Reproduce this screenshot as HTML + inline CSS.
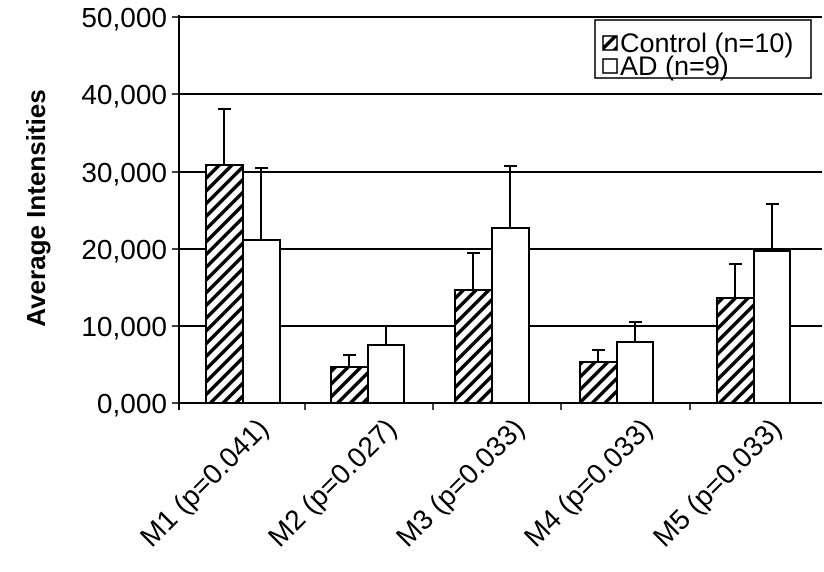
<!DOCTYPE html>
<html><head><style>body{margin:0;background:#fff}</style></head><body>
<svg width="824" height="567" xmlns="http://www.w3.org/2000/svg" font-family="Liberation Sans, Arial, sans-serif">
<defs>
<pattern id="h" patternUnits="userSpaceOnUse" width="9" height="9" patternTransform="rotate(45)">
<rect width="9" height="9" fill="#fff"/><rect width="3.5" height="9" fill="#000"/>
</pattern>
</defs>
<g stroke="#000" stroke-width="2">
<line x1="179" y1="17" x2="822" y2="17"/>
<line x1="179" y1="94" x2="822" y2="94"/>
<line x1="179" y1="172" x2="822" y2="172"/>
<line x1="179" y1="249" x2="822" y2="249"/>
<line x1="179" y1="326" x2="822" y2="326"/>
<line x1="179" y1="403" x2="822" y2="403"/>
<line x1="179" y1="15" x2="179" y2="410"/>
<g stroke-width="1.5">
<line x1="172" y1="17" x2="179" y2="17"/><line x1="172" y1="94" x2="179" y2="94"/><line x1="172" y1="172" x2="179" y2="172"/><line x1="172" y1="249" x2="179" y2="249"/><line x1="172" y1="326" x2="179" y2="326"/><line x1="172" y1="403" x2="179" y2="403"/>
<line x1="305" y1="403" x2="305" y2="410"/><line x1="433" y1="403" x2="433" y2="410"/><line x1="561" y1="403" x2="561" y2="410"/><line x1="690" y1="403" x2="690" y2="410"/>
</g>
</g>
<g stroke="#000" stroke-width="2">
<rect x="206" y="165" width="37" height="238" fill="url(#h)"/>
<rect x="243" y="240" width="37" height="163" fill="#fff"/>
<rect x="331" y="367" width="37" height="36" fill="url(#h)"/>
<rect x="368" y="345" width="36" height="58" fill="#fff"/>
<rect x="455" y="290" width="37" height="113" fill="url(#h)"/>
<rect x="492" y="228" width="37" height="175" fill="#fff"/>
<rect x="580" y="362" width="37" height="41" fill="url(#h)"/>
<rect x="617" y="342" width="36" height="61" fill="#fff"/>
<rect x="717" y="298" width="37" height="105" fill="url(#h)"/>
<rect x="754" y="251" width="36" height="152" fill="#fff"/>
</g>
<g stroke="#000" stroke-width="2" fill="none">
<path d="M224 165V109M218 109H231"/>
<path d="M261 240V168M255 168H268"/>
<path d="M349 367V355M343 355H356"/>
<path d="M386 345V326"/>
<path d="M473 290V253M467 253H480"/>
<path d="M510 228V166M504 166H517"/>
<path d="M598 362V350M592 350H605"/>
<path d="M635 342V322M629 322H642"/>
<path d="M735 298V264M729 264H742"/>
<path d="M772 251V204M766 204H779"/>
</g>
<rect x="595" y="20" width="216" height="58" fill="#fff" stroke="#000" stroke-width="1.5"/>
<rect x="603" y="36" width="14" height="14" fill="url(#h)" stroke="#000" stroke-width="1.5"/>
<rect x="603" y="59" width="14" height="14" fill="#fff" stroke="#000" stroke-width="1.5"/>
<text x="620" y="52" font-size="27" fill="#000">Control (n=10)</text>
<text x="620" y="75" font-size="27" fill="#000">AD (n=9)</text>
<g font-size="28" text-anchor="end" fill="#000">
<text x="167" y="27">50,000</text>
<text x="167" y="104">40,000</text>
<text x="167" y="182">30,000</text>
<text x="167" y="259">20,000</text>
<text x="167" y="336">10,000</text>
<text x="167" y="413">0,000</text>
</g>
<text transform="translate(45,208) rotate(-90)" text-anchor="middle" font-size="26" font-weight="bold">Average Intensities</text>
<g font-size="28" text-anchor="end" fill="#000">
<text transform="translate(270,430) rotate(-45)">M1 (p=0.041)</text>
<text transform="translate(398,430) rotate(-45)">M2 (p=0.027)</text>
<text transform="translate(526,430) rotate(-45)">M3 (p=0.033)</text>
<text transform="translate(654,430) rotate(-45)">M4 (p=0.033)</text>
<text transform="translate(783,430) rotate(-45)">M5 (p=0.033)</text>
</g>
</svg>
</body></html>
